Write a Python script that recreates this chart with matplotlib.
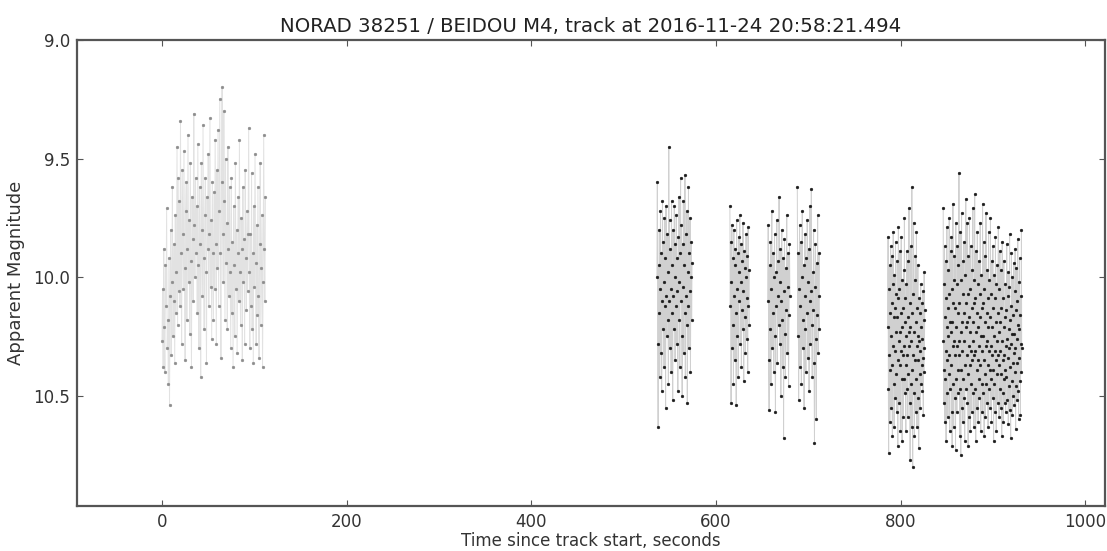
import numpy as np
import matplotlib
matplotlib.use("Agg")
import matplotlib.pyplot as plt

# ==== TRACK SEGMENTS (start, end in seconds since track start) ====
seg_bounds = [(0, 112), (536, 574), (615, 636), (656, 680),
              (688, 712), (786, 826), (846, 931)]

# ==== APPARENT MAGNITUDES per segment ====
mag_seg1 = [
    10.27, 10.05, 10.38, 9.88, 10.21, 10.40, 9.95, 10.12, 9.71, 10.30, 10.18, 10.45, 9.92, 10.54, 10.08,
    9.80, 10.33, 10.02, 9.62, 10.25, 10.10, 9.86, 10.36, 9.74, 10.15, 9.98, 9.45, 10.20, 9.58, 10.06,
    9.68, 10.12, 9.34, 9.90, 10.28, 9.55, 9.82, 10.05, 9.47, 9.96, 10.35, 9.72, 9.60, 10.18, 9.88,
    9.40, 10.02, 9.76, 10.24, 9.52, 9.93, 10.38, 9.66, 9.84, 10.10, 9.31, 9.78, 10.00, 9.58, 9.90,
    9.70, 10.15, 9.44, 9.95, 10.30, 9.62, 9.86, 10.42, 9.52, 9.80, 10.08, 9.36, 9.92, 10.22, 9.74,
    9.58, 9.98, 10.36, 9.66, 9.88, 9.48, 10.12, 9.82, 9.33, 10.04, 9.76, 10.26, 9.60, 9.90, 10.18,
    9.64, 10.05, 9.42, 9.86, 10.28, 9.55, 9.96, 9.38, 10.12, 9.72, 9.25, 9.90, 10.34, 9.60, 9.20,
    9.82, 10.02, 9.30, 9.68, 10.18, 9.50, 9.94, 9.77, 10.22, 9.45, 9.88, 10.08, 9.62, 9.98, 10.30,
    9.58, 10.15, 9.85, 10.38, 9.70, 9.95, 10.25, 9.52, 10.05, 9.80, 10.32, 9.90, 9.66, 10.10, 9.42,
    9.98, 10.20, 9.75, 9.88, 10.35, 9.62, 10.02, 9.84, 10.28, 9.55, 9.92, 10.14, 9.72, 10.06, 9.82,
    9.37, 9.98, 10.30, 9.82, 10.12, 9.56, 10.22, 9.90, 10.36, 9.70, 10.04, 9.48, 9.94, 10.28, 9.78,
    10.16, 9.62, 10.08, 10.34, 9.86, 9.52, 10.20, 9.96, 9.74, 10.38, 10.02, 9.40, 9.88, 10.10, 9.66,
]
mag_seg2 = [
    10.00, 9.60, 10.28, 10.63, 9.95, 10.15, 9.80, 10.42, 10.05, 9.72, 10.32, 9.90, 10.48, 10.10, 9.68,
    10.22, 9.85, 10.02, 10.38, 9.75, 10.12, 9.92, 10.55, 9.70, 10.08, 10.25, 9.82, 10.18, 9.98, 10.45,
    9.45, 10.10, 9.76, 10.30, 9.88, 10.05, 10.40, 9.68, 10.15, 9.95, 10.52, 9.80, 10.08, 10.22, 9.70,
    10.00, 10.35, 9.86, 10.12, 9.74, 10.28, 9.92, 10.06, 10.48, 9.83, 10.18, 9.66, 10.02, 10.38, 9.90,
    9.58, 10.10, 9.78, 10.25, 10.50, 9.86, 10.04, 9.68, 10.32, 9.95, 10.15, 9.57, 10.42, 9.82, 10.08,
    10.20, 9.72, 10.53, 9.98, 10.12, 9.62, 10.30, 9.90, 10.06, 9.75, 10.40, 10.00, 9.85, 10.18, 9.94,
]
mag_seg3 = [
    9.70, 10.12, 9.85, 10.53, 10.02, 9.78, 10.30, 9.92, 10.20, 10.45, 9.80, 10.08, 9.95, 10.35, 9.88,
    10.15, 10.54, 9.76, 10.05, 10.25, 9.90, 10.42, 9.83, 10.10, 9.98, 9.74, 10.28, 10.02, 9.86, 10.38,
    10.14, 9.93, 10.22, 9.77, 10.06, 10.44, 9.89, 10.17, 9.96, 10.32, 10.00, 9.82, 10.26, 10.09, 9.91,
    10.40, 9.79, 10.12, 9.97, 10.20,
]
mag_seg4 = [
    10.10, 9.78, 10.35, 10.56, 9.95, 10.22, 9.85, 10.45, 10.05, 9.72, 10.30, 10.15, 9.90, 10.40, 10.00,
    9.82, 10.25, 10.57, 9.98, 10.12, 9.76, 10.36, 10.08, 9.93, 10.20, 9.66, 10.02, 10.28, 9.88, 10.50,
    10.10, 9.80, 10.18, 10.38, 9.92, 10.68, 10.06, 9.84, 10.24, 10.42, 9.96, 10.14, 9.74, 10.32, 10.04,
    9.90, 10.46, 10.16, 9.86, 10.08,
]
mag_seg5 = [
    9.62, 10.25, 9.90, 10.52, 10.05, 9.78, 10.38, 10.12, 9.85, 10.45, 10.00, 9.72, 10.30, 10.18, 9.95,
    10.55, 10.08, 9.82, 10.22, 10.40, 9.92, 10.15, 9.76, 10.34, 10.02, 9.88, 10.48, 10.10, 9.70, 10.28,
    10.06, 9.63, 10.20, 10.42, 9.98, 10.14, 9.80, 10.36, 10.70, 10.04, 9.86, 10.26, 10.60, 9.94, 10.16,
    9.74, 10.32, 10.08, 9.90, 10.22,
]
mag_seg6 = [
    10.21, 9.83, 10.47, 10.74, 10.05, 10.33, 9.95, 10.61, 10.15, 10.39, 9.87, 10.25, 10.55, 10.11, 9.91,
    10.37, 10.67, 10.03, 10.29, 9.81, 10.45, 10.17, 10.63, 9.99, 10.31, 10.13, 10.51, 9.85, 10.23, 10.41,
    10.07, 10.57, 10.17, 9.93, 10.35, 10.71, 10.09, 9.79, 10.27, 10.53, 10.05, 10.37, 9.89, 10.23, 10.65,
    10.15, 10.31, 9.83, 10.43, 10.21, 10.69, 10.01, 10.33, 10.13, 10.59, 9.97, 10.29, 10.43, 9.75, 10.19,
    10.49, 10.09, 10.37, 10.65, 10.03, 10.25, 9.89, 10.47, 10.33, 10.17, 10.59, 9.93, 10.41, 10.23, 9.71,
    10.29, 10.53, 10.11, 10.77, 10.21, 9.87, 10.45, 10.27, 10.63, 9.62, 10.15, 10.39, 10.80, 10.07, 10.33,
    9.77, 10.49, 10.23, 10.67, 10.01, 10.35, 9.91, 10.57, 10.19, 10.43, 9.81, 10.29, 10.63, 10.13, 10.35,
    9.95, 10.51, 10.25, 10.72, 10.09, 10.27, 10.41, 10.15, 10.55, 10.31, 10.03, 10.45, 10.21, 10.37, 10.11,
    10.26, 10.48, 10.06, 10.34, 10.58, 10.18, 10.40, 9.98, 10.30, 10.14,
]
mag_seg7 = [
    9.71, 10.27, 10.53, 10.03, 10.39, 9.87, 10.61, 10.17, 10.43, 9.93, 10.31, 10.69, 10.09, 10.21, 9.79,
    10.49, 10.35, 10.13, 10.59, 9.97, 10.25, 10.41, 10.07, 9.75, 10.33, 10.65, 10.19, 10.47, 9.89, 10.23,
    10.37, 9.83, 10.57, 10.19, 10.71, 10.05, 10.29, 9.69, 10.45, 10.11, 10.63, 10.01, 10.27, 9.91, 10.51,
    10.33, 10.13, 10.73, 9.77, 10.21, 10.43, 10.03, 10.57, 10.29, 9.87, 10.15, 10.49, 10.39, 9.95, 10.27,
    9.56, 10.33, 10.11, 10.67, 9.81, 10.47, 10.23, 10.75, 10.01, 10.39, 9.73, 10.55, 10.19, 10.31, 9.93,
    10.61, 10.07, 10.43, 10.27, 9.85, 10.51, 10.15, 10.69, 9.99, 10.37, 10.21, 9.67, 10.47, 10.11, 10.33,
    10.19, 9.77, 10.53, 10.07, 10.41, 10.71, 9.91, 10.29, 10.59, 10.17, 9.75, 10.37, 10.05, 10.65, 10.23,
    9.87, 10.45, 10.31, 10.13, 10.57, 9.97, 10.35, 10.19, 9.71, 10.49, 10.27, 10.01, 10.63, 10.33, 10.11,
    9.65, 10.31, 10.47, 10.09, 10.69, 9.89, 10.23, 10.39, 10.15, 10.55, 9.81, 10.35, 10.03, 10.61, 10.21,
    10.43, 9.93, 10.29, 10.51, 10.07, 10.37, 9.77, 10.17, 10.65, 10.25, 9.99, 10.45, 10.13, 10.31, 10.57,
    9.69, 10.25, 10.11, 10.49, 9.85, 10.35, 10.67, 10.05, 10.41, 9.91, 10.19, 10.59, 10.29, 9.73, 10.45,
    10.15, 10.27, 10.53, 9.97, 10.37, 10.09, 10.63, 10.21, 9.81, 10.31, 10.47, 10.01, 10.39, 10.17, 10.55,
    9.75, 10.29, 10.43, 10.07, 10.61, 9.93, 10.33, 10.21, 10.51, 9.87, 10.39, 10.13, 10.69, 10.25, 9.99,
    10.45, 10.31, 10.09, 10.57, 9.83, 10.35, 10.19, 10.65, 10.03, 10.41, 10.27, 9.95, 10.53, 10.15, 10.33,
    9.79, 10.37, 10.23, 10.59, 10.05, 10.47, 9.89, 10.31, 10.19, 10.55, 9.97, 10.41, 10.13, 10.67, 10.27,
    9.85, 10.35, 10.49, 10.09, 10.61, 10.21, 9.93, 10.43, 10.33, 10.53, 10.17, 10.39, 10.03, 10.57, 10.29,
    10.14, 10.42, 9.86, 10.26, 10.52, 10.08, 10.34, 9.98, 10.62, 10.22, 10.46, 10.04, 10.30, 9.82, 10.56,
    10.18, 10.38, 10.68, 10.12, 10.28, 9.90, 10.44, 10.24, 10.58, 10.00, 10.36, 10.16, 10.50, 9.94, 10.32,
    10.24, 10.54, 10.06, 10.40, 9.88, 10.30, 10.64, 10.14, 10.46, 9.96, 10.26, 10.52, 10.10, 10.36, 9.84,
    10.48, 10.20, 10.60, 10.02, 10.34, 10.22, 9.92, 10.44, 10.16, 10.58, 10.28, 10.08, 10.40, 9.80, 10.30,
]
segments = [mag_seg1, mag_seg2, mag_seg3, mag_seg4, mag_seg5, mag_seg6, mag_seg7]

TITLE = "NORAD 38251 / BEIDOU M4, track at 2016-11-24 20:58:21.494"

# ==== FIGURE ====
fig = plt.figure(figsize=(11.07, 5.51), dpi=100)
ax = fig.add_axes([0.0696, 0.0817, 0.9284, 0.8457])

for i, ((t0, t1), mags) in enumerate(zip(seg_bounds, segments)):
    t = np.linspace(t0, t1, len(mags))  # samples are evenly spaced in time
    if i == 0:
        dot, line = "#8c8c8c", "#e2e2e2"
    else:
        dot, line = "#1a1a1a", "#d0d0d0"
    ax.plot(t, mags, "-", color=line, lw=0.7, zorder=1)
    ax.plot(t, mags, "o", ms=2.0, mfc=dot, mec=dot, mew=0.3, zorder=2)

ax.set_xlim(-92, 1021)
ax.set_ylim(10.965, 9.0)
ax.set_xticks([0, 200, 400, 600, 800, 1000])
ax.set_yticks([9.0, 9.5, 10.0, 10.5])
ax.set_yticklabels(["9.0", "9.5", "10.0", "10.5"])

txt = "#333333"
ax.tick_params(direction="in", top=True, right=True, length=4, width=0.8,
               colors="#555555", labelcolor=txt, labelsize=12, pad=5)
for s in ax.spines.values():
    s.set_color("#555555")
    s.set_linewidth(1.6)

ax.set_xlabel("Time since track start, seconds", fontsize=12, color=txt, labelpad=1)
ax.set_ylabel("Apparent Magnitude", fontsize=13, color=txt, labelpad=6)
ax.set_title(TITLE, fontsize=14.2, color="#222222", pad=6)

fig.savefig("out.png", dpi=100)
